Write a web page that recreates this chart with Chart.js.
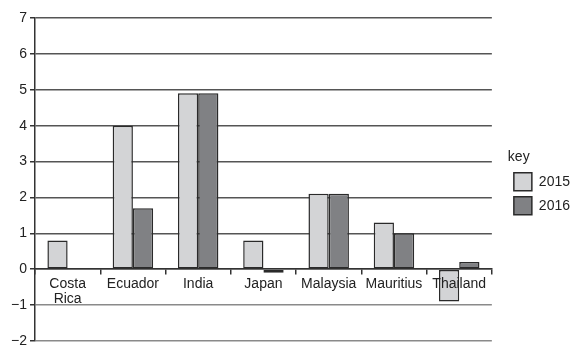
<!DOCTYPE html>
<html>
<head>
<meta charset="utf-8">
<script src="https://cdn.jsdelivr.net/npm/chart.js@4/dist/chart.umd.min.js"></script>
<style>
html,body{margin:0;padding:0;background:#fff;}
canvas{display:block;}
</style>
</head>
<body>
<canvas id="c" width="586" height="358"></canvas>
<script>
const categories = [['Costa','Rica'], 'Ecuador', 'India', 'Japan', 'Malaysia', 'Mauritius', 'Thailand'];
const values2015 = [0.8, 4.0, 4.9, 0.8, 2.1, 1.3, -0.9];
const values2016 = [null, 1.7, 4.9, -0.1, 2.1, 1.0, 0.2];
const seriesLabels = ['2015', '2016'];
const yTicks = [-2, -1, 0, 1, 2, 3, 4, 5, 6, 7];

const FONT = 'Liberation Sans, Arial, sans-serif';
const PAD_TOP = 18;

new Chart(document.getElementById('c'), {
  type: 'bar',
  data: {
    labels: categories,
    datasets: [
      { label: seriesLabels[0], data: values2015, backgroundColor: '#d3d4d6', borderColor: '#2a2a2a', borderWidth: 1.5, borderSkipped: false },
      { label: seriesLabels[1], data: values2016, backgroundColor: '#808184', borderColor: '#2a2a2a', borderWidth: 1.5, borderSkipped: false }
    ]
  },
  options: {
    responsive: false,
    animation: false,
    devicePixelRatio: 1,
    layout: { padding: { top: PAD_TOP, bottom: 17, left: 0, right: 6 } },
    datasets: { bar: { categoryPercentage: 0.62, barPercentage: 1 } },
    plugins: {
      tooltip: { enabled: false },
      legend: {
        position: 'right',
        align: 'start',
        title: { display: true, text: 'key', position: 'start', color: '#222', font: { family: FONT, size: 14 }, padding: { top: 150 - PAD_TOP, bottom: 0 } },
        labels: {
          boxWidth: 18, boxHeight: 18, padding: 6, color: '#222',
          font: { family: FONT, size: 14 }
        }
      }
    },
    scales: {
      x: {
        position: { y: 0 },
        offset: true,
        grid: { drawOnChartArea: false, offset: true, tickLength: 5, color: '#333', lineWidth: 1.5 },
        border: { display: true, color: '#333', width: 1.5 },
        ticks: { z: 1, color: '#222', font: { family: FONT, size: 14, lineHeight: 1.1 }, padding: 2, maxRotation: 0, autoSkip: false }
      },
      y: {
        min: -2, max: 7,
        afterFit(scale) { scale.width = 35; },
        afterBuildTicks(scale) { scale.ticks = yTicks.map(v => ({ value: v })); },
        grid: {
          color: ctx => (ctx.tick && ctx.tick.value < 0) ? '#8a8a8a' : '#555',
          lineWidth: 1.5,
          tickLength: 5,
          tickColor: '#333'
        },
        border: { display: true, color: '#333', width: 1.5 },
        ticks: {
          color: '#222', font: { family: FONT, size: 14 }, padding: 3,
          callback: v => v < 0 ? '\u2212' + Math.abs(v) : String(v)
        }
      },
      gap: {
        type: 'linear',
        position: 'right',
        display: true,
        afterFit(scale) { scale.width = 16; },
        grid: { display: false },
        border: { display: false },
        ticks: { display: false }
      }
    }
  }
});
</script>
</body>
</html>
